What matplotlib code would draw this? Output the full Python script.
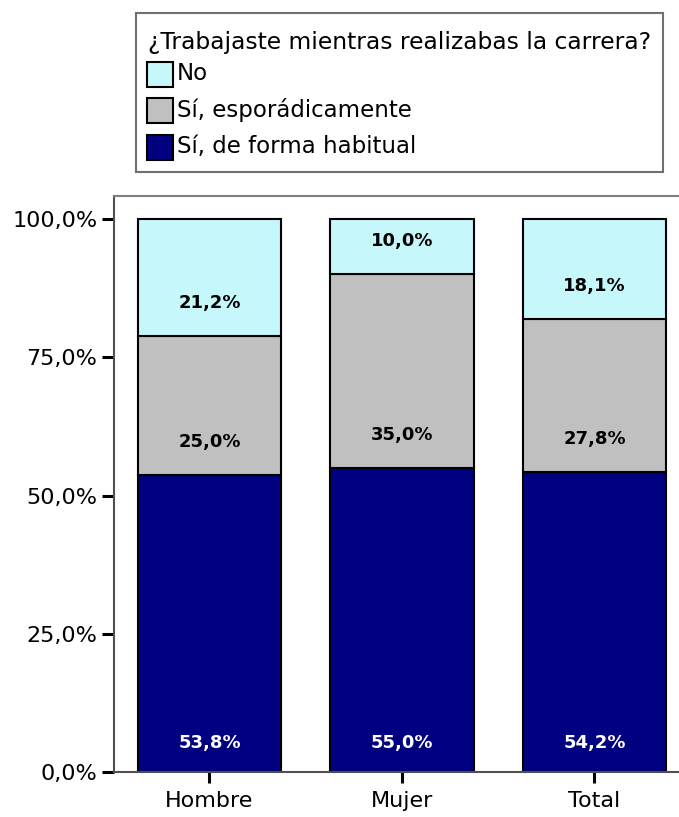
import matplotlib
matplotlib.use("Agg")
import matplotlib.pyplot as plt
from matplotlib.patches import Rectangle
import numpy as np

plt.rcParams['font.family'] = ['DejaVu Sans']

categories = ["Hombre", "Mujer", "Total"]
series_names = ["Sí, de forma habitual", "Sí, esporádicamente", "No"]
habitual = [53.8, 55.0, 54.2]
esporadico = [25.0, 35.0, 27.8]
no_trabajo = [21.2, 10.0, 18.1]
colors = ["#000080", "#C0C0C0", "#C6F7FB"]
label_colors = ["white", "black", "black"]
yticks = [0, 25, 50, 75, 100]
ytick_labels = ["0,0%", "25,0%", "50,0%", "75,0%", "100,0%"]
legend_title = "¿Trabajaste mientras realizabas la carrera?"

W, H = 679, 817
fig = plt.figure(figsize=(W / 100, H / 100), dpi=100)
ax = fig.add_axes([114 / W, (H - 772) / H, (679 - 114) / W, (772 - 196) / H])


def fx(px):
    return px / W


def fy(py):
    return 1 - py / H


x = np.arange(len(categories))
series = [habitual, esporadico, no_trabajo]
bottom = np.zeros(len(categories))
containers = []
for vals, name, col, lc in zip(series, series_names, colors, label_colors):
    vals = np.array(vals)
    bc = ax.bar(x, vals, bottom=bottom, width=0.743, color=col, edgecolor="black",
                linewidth=1.5, label=name)
    containers.append(bc)
    for xi, b, v in zip(x, bottom, vals):
        off = 29 if b == 0 else 33
        ax.annotate(f"{v:.1f}%".replace(".", ","), xy=(xi, b), xytext=(0, off),
                    textcoords="offset pixels", ha="center", va="center",
                    fontsize=13, fontweight="bold", color=lc)
    bottom = bottom + vals

ax.set_xlim(-0.496, 2.439)
ax.set_ylim(0, 104.2)
ax.set_xticks(x)
ax.set_xticklabels(categories, fontsize=16)
ax.set_yticks(yticks)
ax.set_yticklabels(ytick_labels, fontsize=16)
ax.tick_params(axis="y", length=9, width=2.2, direction="out", pad=3, color="black")
ax.tick_params(axis="x", length=8, width=2.2, direction="out", pad=6, color="black")
ax.spines["right"].set_visible(False)
for s in ["left", "bottom"]:
    ax.spines[s].set_color("#505050")
    ax.spines[s].set_linewidth(1.5)
ax.spines["top"].set_color("#808080")
ax.spines["top"].set_linewidth(1.5)

# Legend drawn as a framed box in figure coordinates
fig.patches.append(Rectangle((fx(136), fy(172)), fx(663) - fx(136), fy(13) - fy(172),
                             transform=fig.transFigure, facecolor="white",
                             edgecolor="#707070", linewidth=1.5))
fig.text(fx(148), fy(43), legend_title, fontsize=16.8, ha="left", va="center")
legend_order = [2, 1, 0]
legend_y = [74, 110, 147]
for idx, yc in zip(legend_order, legend_y):
    fig.patches.append(Rectangle((fx(147), fy(yc + 12.5)), fx(173) - fx(147), 25 / H,
                                 transform=fig.transFigure, facecolor=colors[idx],
                                 edgecolor="black", linewidth=1.5))
    fig.text(fx(177), fy(yc), series_names[idx], fontsize=16.5, ha="left", va="center")

fig.savefig("out.png", dpi=100)
